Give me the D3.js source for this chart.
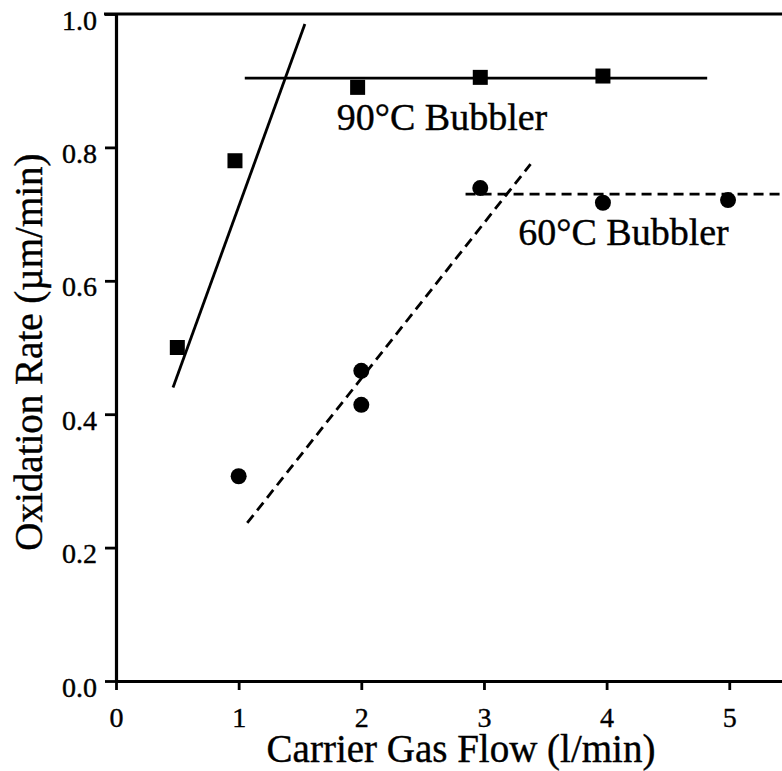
<!DOCTYPE html>
<html>
<head>
<meta charset="utf-8">
<script src="https://cdn.jsdelivr.net/npm/d3@7/dist/d3.min.js"></script>
<style>
  html, body { margin: 0; padding: 0; background: #fff; }
  svg { display: block; }
  text { font-family: "Liberation Serif", "Times New Roman", serif; fill: #000; stroke: #000; stroke-width: 0.4px; }
</style>
</head>
<body>
<svg id="chart" width="782" height="771"></svg>
<script>
// Measured oxidation rates (µm/min) against carrier gas flow (l/min)
const flow90 = [0.5, 0.97, 1.97, 2.97, 3.97];
const rate90 = [0.50, 0.78, 0.89, 0.905, 0.907];
const flow60 = [1.0, 2.0, 2.0, 2.97, 3.97, 4.99];
const rate60 = [0.307, 0.465, 0.414, 0.739, 0.717, 0.721];

// Hand-drawn trend lines (endpoints in data units)
const fit90RiseX = [0.465, 1.54];
const fit90RiseY = [0.44, 0.985];
const fit90FlatX = [1.05, 4.82];
const fit90FlatY = [0.904, 0.904];
const fit60RiseX = [1.07, 3.38];
const fit60RiseY = [0.237, 0.775];
const fit60FlatX = [2.85, 5.43];
const fit60FlatY = [0.730, 0.730];

// Axis ticks and captions
const xTicks = [0, 1, 2, 3, 4, 5];
const yTicks = [0.0, 0.2, 0.4, 0.6, 0.8, 1.0];
const xTitle = "Carrier Gas Flow (l/min)";
const yTitle = "Oxidation Rate (\u00B5m/min)";
const label90 = "90\u00B0C Bubbler";
const label60 = "60\u00B0C Bubbler";

const svg = d3.select("#chart");

const x = d3.scaleLinear().domain([0, 5.43]).range([116, 782]);
const y = d3.scaleLinear().domain([0, 1]).range([681, 14]);

// Top frame line
svg.append("line")
  .attr("x1", x(0) - 12).attr("x2", x.range()[1])
  .attr("y1", y(1)).attr("y2", y(1))
  .attr("stroke", "#000").attr("stroke-width", 2.8);

// Y axis
const yAxis = svg.append("g")
  .attr("transform", `translate(${x(0)},0)`)
  .call(d3.axisLeft(y).tickValues(yTicks).tickFormat(d3.format(".1f")).tickSize(11).tickSizeOuter(0));
yAxis.select(".domain").attr("stroke", "#000").attr("stroke-width", 3.2);
yAxis.selectAll(".tick line").attr("stroke", "#000").attr("stroke-width", 2.8);
yAxis.selectAll(".tick text")
  .attr("x", -19).attr("dy", "15px")
  .style("font-family", "'Liberation Serif', 'Times New Roman', serif")
  .style("font-size", "28px");

// X axis
const xAxis = svg.append("g")
  .attr("transform", `translate(0,${y(0)})`)
  .call(d3.axisBottom(x).tickValues(xTicks).tickFormat(d3.format("d")).tickSize(9).tickSizeOuter(0));
xAxis.select(".domain").attr("stroke", "#000").attr("stroke-width", 3.2);
xAxis.selectAll(".tick line").attr("stroke", "#000").attr("stroke-width", 2.8);
xAxis.selectAll(".tick text")
  .attr("y", 46).attr("dy", 0)
  .style("font-family", "'Liberation Serif', 'Times New Roman', serif")
  .style("font-size", "28px");

// Axis titles
svg.append("text")
  .attr("x", 461).attr("y", 762)
  .attr("text-anchor", "middle")
  .style("font-size", "39px")
  .text(xTitle);

svg.append("text")
  .attr("transform", "translate(42,352) rotate(-90)")
  .attr("text-anchor", "middle")
  .style("font-size", "39px")
  .text(yTitle);

// Trend lines
const seg = d3.line().x(d => x(d[0])).y(d => y(d[1]));
function drawLine(xs, ys, dashed) {
  svg.append("path")
    .attr("d", seg(d3.zip(xs, ys)))
    .attr("fill", "none")
    .attr("stroke", "#000")
    .attr("stroke-width", 2.8)
    .attr("stroke-dasharray", dashed ? "10,6" : null);
}
drawLine(fit90RiseX, fit90RiseY, false);
drawLine(fit90FlatX, fit90FlatY, false);
drawLine(fit60RiseX, fit60RiseY, true);
drawLine(fit60FlatX, fit60FlatY, true);

// 90 °C points: filled squares
const sq = 15;
svg.append("g").selectAll("rect")
  .data(d3.zip(flow90, rate90))
  .join("rect")
  .attr("x", d => x(d[0]) - sq / 2)
  .attr("y", d => y(d[1]) - sq / 2)
  .attr("width", sq).attr("height", sq)
  .attr("fill", "#000");

// 60 °C points: filled circles
svg.append("g").selectAll("circle")
  .data(d3.zip(flow60, rate60))
  .join("circle")
  .attr("cx", d => x(d[0]))
  .attr("cy", d => y(d[1]))
  .attr("r", 8)
  .attr("fill", "#000");

// Series labels
svg.append("text")
  .attr("x", x(1.8)).attr("y", y(0.826))
  .style("font-size", "38px")
  .text(label90);

svg.append("text")
  .attr("x", x(3.28)).attr("y", y(0.654))
  .style("font-size", "38px")
  .text(label60);
</script>
</body>
</html>
